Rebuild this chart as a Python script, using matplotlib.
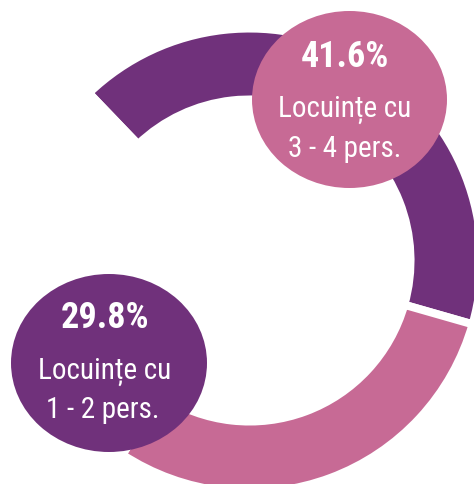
import matplotlib
matplotlib.use("Agg")
import matplotlib.pyplot as plt
from matplotlib.patches import Ellipse
from matplotlib import font_manager
from matplotlib.font_manager import FontProperties

# Data
categories = ["Locuințe cu\n3 - 4 pers.", "Locuințe cu\n1 - 2 pers.", "Altele"]
values = [41.6, 29.8, 28.6]
pct_labels = ["41.6%", "29.8%"]

PURPLE = "#70317B"
PINK = "#C76A95"


def pick(weight_bold):
    fl = font_manager.fontManager.ttflist
    def ok(f):
        w = f.weight if isinstance(f.weight, int) else (700 if f.weight == "bold" else 400)
        return (w >= 600) == weight_bold and f.style == "normal"
    prefs = [
        lambda f: "Narrow" in f.name and "Liberation" in f.name,
        lambda f: "Condensed" in f.name and "Roboto" in f.name,
        lambda f: "Condensed" in f.name and "Open Sans" in f.name,
        lambda f: f.name == "DejaVu Sans" and ("Condensed" in f.fname or f.stretch == "condensed"),
        lambda f: "Condensed" in f.name or "Narrow" in f.name,
    ]
    for p in prefs:
        for f in fl:
            if p(f) and ok(f):
                return FontProperties(fname=f.fname)
    return FontProperties(family="DejaVu Sans", weight="bold" if weight_bold else "normal",
                          stretch="condensed")


fp_bold = pick(True)
fp_reg = pick(False)

W, H = 474, 485
fig = plt.figure(figsize=(W / 100, H / 100), dpi=100)
ax = fig.add_axes([0, 0, 1, 1])

cx, cy = 249.5, H - 261.5
ax.pie(values, colors=[PURPLE, PINK, "none"], startangle=133.8, counterclock=False,
       center=(cx, cy), radius=232,
       wedgeprops=dict(width=71, edgecolor="white", linewidth=5.8))

# bubbles (colors swapped vs arcs, as in the reference)
ax.add_patch(Ellipse((349.5, H - 100.5), 195, 177, facecolor=PINK, edgecolor="none", zorder=5))
ax.add_patch(Ellipse((109, H - 364), 196, 178, facecolor=PURPLE, edgecolor="none", zorder=5))

# texts
l1 = categories[0].split("\n")
l2 = categories[1].split("\n")
fb = fp_bold.copy(); fb.set_size(26)
fr = fp_reg.copy(); fr.set_size(21)

ax.text(345, H - 67, pct_labels[0], color="white", fontproperties=fb,
        ha="center", va="baseline", zorder=6)
ax.text(345, H - 117, l1[0], color="white", fontproperties=fr, ha="center", va="baseline", zorder=6)
ax.text(345, H - 157, l1[1], color="white", fontproperties=fr, ha="center", va="baseline", zorder=6)

ax.text(105, H - 328, pct_labels[1], color="white", fontproperties=fb,
        ha="center", va="baseline", zorder=6)
ax.text(105, H - 379, l2[0], color="white", fontproperties=fr, ha="center", va="baseline", zorder=6)
ax.text(103, H - 418, l2[1], color="white", fontproperties=fr, ha="center", va="baseline", zorder=6)

ax.set_xlim(0, W)
ax.set_ylim(0, H)
ax.set_aspect("equal")
ax.axis("off")

fig.savefig("out.png", dpi=100)
